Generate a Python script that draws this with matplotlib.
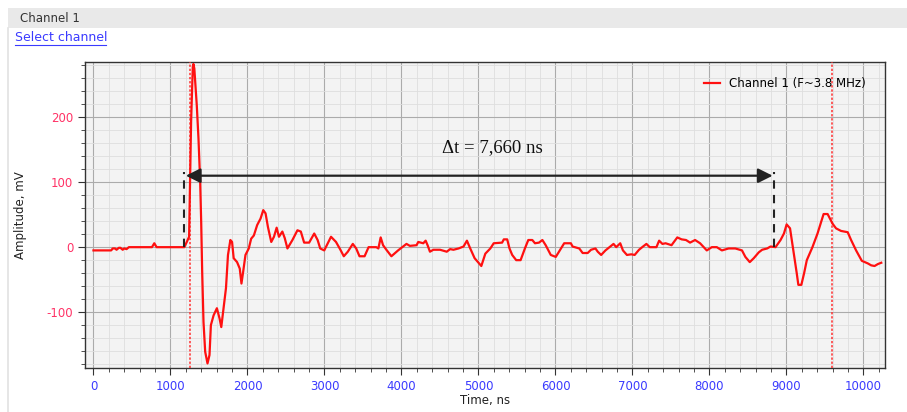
import numpy as np
import matplotlib.pyplot as plt
from matplotlib.ticker import MultipleLocator

plt.rcParams['axes.unicode_minus'] = False

# waveform (time in ns, amplitude in mV)
t = [0, 230, 250, 280, 300, 330, 350, 380, 400, 430, 460, 760, 790, 820, 1180,
     1212, 1242, 1268, 1290, 1298, 1310, 1342, 1364, 1386, 1399, 1412, 1429, 1451,
     1481, 1507, 1525, 1560, 1603, 1638, 1660, 1690, 1721, 1747, 1778, 1800, 1821,
     1865, 1900, 1922, 1944, 1974, 2017, 2048, 2083, 2126, 2170, 2205, 2235, 2266,
     2309, 2344, 2379, 2409, 2453, 2484, 2519, 2584, 2649, 2693, 2736, 2801, 2867,
     2911, 2945, 2997, 3085, 3150, 3207, 3251, 3303, 3368, 3412, 3455, 3521, 3573,
     3673, 3700, 3730, 3761, 3804, 3869, 3956, 4043, 4065, 4109, 4196, 4218, 4283,
     4314, 4339, 4370, 4414, 4501, 4588, 4632, 4675, 4741, 4806, 4850, 4893, 4950,
     5037, 5089, 5154, 5198, 5307, 5329, 5373, 5403, 5438, 5490, 5547, 5603, 5647,
     5699, 5734, 5786, 5830, 5873, 5939, 6004, 6056, 6113, 6200, 6222, 6309, 6353,
     6418, 6462, 6519, 6549, 6593, 6649, 6702, 6754, 6789, 6841, 6876, 6928, 6985,
     7028, 7085, 7137, 7181, 7224, 7311, 7346, 7389, 7430, 7507, 7582, 7638, 7695,
     7748, 7813, 7878, 7965, 8030, 8095, 8161, 8248, 8335, 8422, 8466, 8523, 8575,
     8640, 8684, 8749, 8793, 8858, 8923, 8967, 9002, 9046, 9089, 9133, 9154, 9193,
     9229, 9264, 9337, 9403, 9482, 9534, 9599, 9643, 9708, 9795, 9839, 9904, 9978,
     10056, 10100, 10144, 10187, 10231]
amp = [-5, -5, -2, -2, -4, -1, -1, -4, -2, -3, 0, 0, 6, 0, 0,
       8, 16, 193, 278, 282, 275, 218, 167, 100, 39, -38, -115, -161,
       -179, -166, -120, -105, -94, -110, -123, -94, -63, -12, 11, 8, -17,
       -23, -33, -56, -38, -12, -2, 13, 18, 34, 44, 57, 52, 31,
       8, 16, 30, 16, 24, 14, -2, 11, 26, 24, 7, 7, 21,
       11, -2, -5, 16, 8, -4, -14, -7, 5, -2, -14, -14, 0,
       0, -2, 15, 3, -4, -14, -5, 3, 5, 2, 3, 8, 6,
       10, 3, -7, -4, -4, -7, -3, -4, -2, 1, 10, -2, -17,
       -29, -10, -2, 6, 7, 12, 12, -2, -12, -20, -20, -2, 11,
       11, 6, 7, 11, 3, -12, -15, -5, 6, 6, 1, -2, -9,
       -9, -4, -2, -7, -12, -5, 0, 5, 0, 6, -5, -12, -11,
       -12, -4, 1, 5, 0, 0, 10, 5, 6, 3, 15, 12, 11,
       7, 11, 6, -5, 0, 0, -5, -2, -2, -5, -15, -23, -17,
       -8, -4, -2, 1, 0, 11, 21, 35, 29, -5, -40, -58, -58,
       -40, -20, 0, 21, 51, 51, 36, 29, 25, 23, 11, -5, -21,
       -25, -28, -29, -26, -24]

cursors = [1255, 9585]       # red dotted markers
t_start, t_end = 1180, 8840  # arrival times for the delta-t arrow
arrow_y = 110
label = 'Δt = 7,660 ns'
legend_label = 'Channel 1 (F~3.8 MHz)'

fig = plt.figure(figsize=(9.07, 4.12), dpi=100)
fig.patch.set_facecolor('white')

# header strip and panel border
fig.patches.append(plt.Rectangle((0.009, 0.932), 0.991, 0.048, transform=fig.transFigure,
                                 facecolor='#e9e9e9', edgecolor='none'))
fig.lines.append(plt.Line2D([0.009, 0.009], [0.0, 0.932], transform=fig.transFigure,
                            color='#e2e2e2', lw=1.2))
fig.text(0.022, 0.955, 'Channel 1', fontsize=8.5, color='#333333', va='center')
fig.text(0.016, 0.908, 'Select channel', fontsize=9, color='#3a3aff', va='center')
fig.lines.append(plt.Line2D([0.016, 0.117], [0.891, 0.891], transform=fig.transFigure,
                            color='#3a3aff', lw=0.8))

ax = fig.add_axes([0.0937, 0.1068, 0.8821, 0.7427])
ax.set_facecolor('#f3f3f3')

ax.plot(t, amp, color='#ff1010', lw=1.6, label=legend_label, zorder=4)
for c in cursors:
    ax.axvline(c, color='#ff3030', lw=1.1, ls=(0, (1.5, 1.2)), zorder=3)

ax.plot([t_start, t_start], [0, 115], color='#222222', lw=1.5, ls=(0, (4, 3)), zorder=5)
ax.plot([t_end, t_end], [0, 115], color='#222222', lw=1.5, ls=(0, (4, 3)), zorder=5)
ax.annotate('', xy=(t_start + 20, arrow_y), xytext=(t_end - 20, arrow_y),
            arrowprops=dict(arrowstyle='<|-|>', color='#222222', lw=1.6,
                            mutation_scale=22, shrinkA=0, shrinkB=0), zorder=6)
ax.text(5180, 154, label, fontsize=13.5, family='Liberation Serif', ha='center', va='center',
        color='#111111', zorder=6)

ax.set_xlim(-110, 10280)
ax.set_ylim(-186, 285)
ax.xaxis.set_major_locator(MultipleLocator(1000))
ax.xaxis.set_minor_locator(MultipleLocator(200))
ax.yaxis.set_major_locator(MultipleLocator(100))
ax.yaxis.set_minor_locator(MultipleLocator(20))
ax.grid(which='major', color='#ababab', lw=0.8)
ax.grid(which='minor', color='#dedede', lw=0.6)
ax.set_axisbelow(True)

ax.tick_params(axis='x', which='both', colors='#333333', labelcolor='#3a3aff', labelsize=8.5)
ax.tick_params(axis='y', which='both', colors='#333333', labelcolor='#ff3366', labelsize=8.5)
ax.tick_params(which='major', length=5)
ax.tick_params(which='minor', length=3)
for s in ax.spines.values():
    s.set_color('#333333')
    s.set_linewidth(1.0)

ax.set_xlabel('Time, ns', fontsize=8.5, color='#222222', labelpad=1)
ax.set_ylabel('Amplitude, mV', fontsize=8.5, color='#222222', labelpad=14)

ax.legend(loc='upper right', frameon=False, fontsize=8.5, handlelength=1.3,
          borderaxespad=0.9, bbox_to_anchor=(0.995, 1.0))

fig.savefig('out.png', dpi=100)
